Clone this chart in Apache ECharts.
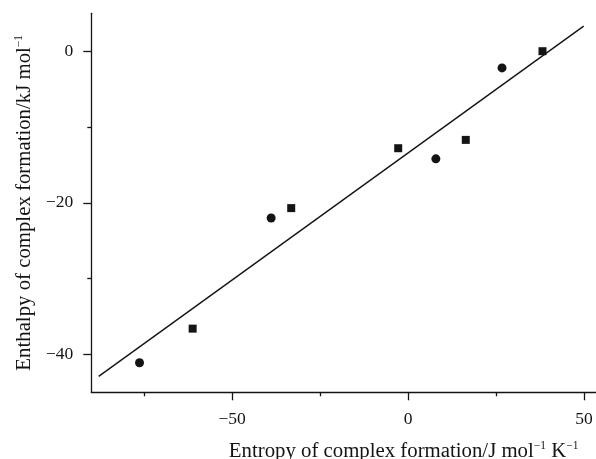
<!DOCTYPE html>
<html>
<head>
<meta charset="utf-8">
<script src="https://cdn.jsdelivr.net/npm/echarts@6/dist/echarts.min.js"></script>
<style>
  html, body { margin: 0; padding: 0; background: #fff; }
  #chart { width: 596px; height: 459px; }
</style>
</head>
<body>
<div id="chart"></div>
<script>
// Entropy (J mol^-1 K^-1) vs enthalpy (kJ mol^-1) of complex formation
const circleEntropy = [-76.3, -38.9, 7.9, 26.7];
const circleEnthalpy = [-41.1, -22.0, -14.2, -2.2];
const squareEntropy = [-61.2, -33.2, -2.8, 16.4, 38.2];
const squareEnthalpy = [-36.6, -20.7, -12.8, -11.7, 0.0];
// least-squares line, end points
const fitEntropy = [-87.9, 49.9];
const fitEnthalpy = [-42.9, 3.3];

const xMajorTicks = [-50, 0, 50];
const xMinorTicks = [-75, -25, 25];
const yMajorTicks = [-40, -20, 0];
const yMinorTicks = [-30, -10];

const xRange = [-90, 53.4];
const yRange = [-45, 5];

const pair = (xs, ys) => xs.map((x, i) => [x, ys[i]]);
const fmt = v => String(v).replace('-', '\u2212');

const FONT = 'Liberation Serif';
const INK = '#141414';
const NAME_SIZE = 20.8;
const TICK_SIZE = 17.5;

const axisLineStyle = { onZero: false, lineStyle: { color: INK, width: 1.3 } };

const nameRich = {
  t: { fontFamily: FONT, fontSize: NAME_SIZE, color: INK },
  s: { fontFamily: FONT, fontSize: 11.5, color: INK, verticalAlign: 'bottom', padding: [0, 0, 10, 0] }
};

function xAxisPart(ticks, len, labels, showLine, name) {
  return {
    type: 'value', position: 'bottom', offset: 0,
    min: xRange[0], max: xRange[1],
    axisLine: Object.assign({ show: showLine }, axisLineStyle),
    axisTick: { show: true, customValues: ticks, length: len, lineStyle: { color: INK, width: 1.3 } },
    axisLabel: labels ? { show: true, customValues: labels, formatter: fmt, margin: 18,
      fontFamily: FONT, fontSize: TICK_SIZE, color: INK } : { show: false },
    splitLine: { show: false },
    name: name || '',
    nameLocation: 'middle',
    nameGap: 48,
    nameTextStyle: name ? {
      fontFamily: FONT, fontSize: NAME_SIZE, color: INK, padding: [0, 0, 0, 120], rich: nameRich
    } : {}
  };
}

function yAxisPart(ticks, len, labels, showLine, name) {
  return {
    type: 'value', position: 'left', offset: 0,
    min: yRange[0], max: yRange[1],
    axisLine: Object.assign({ show: showLine }, axisLineStyle),
    axisTick: { show: true, customValues: ticks, length: len, lineStyle: { color: INK, width: 1.3 } },
    axisLabel: labels ? { show: true, customValues: labels, formatter: fmt, margin: 18,
      fontFamily: FONT, fontSize: TICK_SIZE, color: INK } : { show: false },
    splitLine: { show: false },
    name: name || '',
    nameLocation: 'middle',
    nameGap: 56,
    nameTextStyle: name ? {
      fontFamily: FONT, fontSize: NAME_SIZE, color: INK, rich: nameRich
    } : {}
  };
}

const chart = echarts.init(document.getElementById('chart'), null, { renderer: 'canvas' });
chart.setOption({
  animation: false,
  backgroundColor: '#fff',
  grid: { left: 91.3, right: 0, top: 13.3, bottom: 66.7, containLabel: false, outerBoundsMode: 'none' },
  xAxis: [
    xAxisPart(xMajorTicks, 8, xMajorTicks, true,
      '{t|Entropy of complex formation/J mol}{s|\u22121}{t| K}{s|\u22121}'),
    xAxisPart(xMinorTicks, 4, null, false)
  ],
  yAxis: [
    yAxisPart(yMajorTicks, 8, yMajorTicks, true,
      '{t|Enthalpy of complex formation/kJ mol}{s|\u22121}'),
    yAxisPart(yMinorTicks, 4, null, false)
  ],
  series: [
    {
      type: 'line', xAxisIndex: 0, yAxisIndex: 0,
      data: pair(fitEntropy, fitEnthalpy),
      showSymbol: false, symbol: 'none',
      lineStyle: { color: INK, width: 1.4 }
    },
    {
      type: 'scatter', xAxisIndex: 0, yAxisIndex: 0,
      data: pair(circleEntropy, circleEnthalpy),
      symbol: 'circle', symbolSize: 9,
      itemStyle: { color: INK, opacity: 1 }
    },
    {
      type: 'scatter', xAxisIndex: 0, yAxisIndex: 0,
      data: pair(squareEntropy, squareEnthalpy),
      symbol: 'rect', symbolSize: 8,
      itemStyle: { color: INK, opacity: 1 }
    }
  ]
});
</script>
</body>
</html>
